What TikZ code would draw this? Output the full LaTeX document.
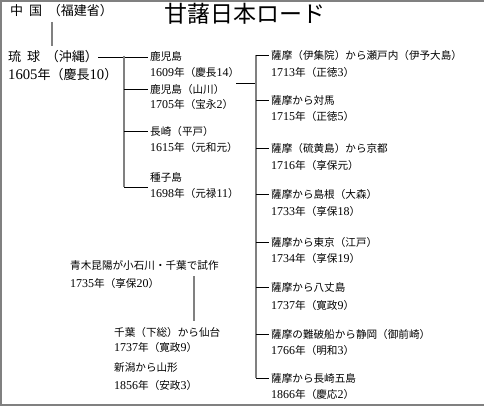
\documentclass[tikz,border=0pt]{standalone}
\usepackage{fontspec}
\setmainfont{Noto Sans CJK JP}
\newfontfamily\lat[Scale=1.13]{Liberation Serif}
\newcommand\yr[3]{{\lat #1}年（#2{\lat #3}）}
\begin{document}
\begin{tikzpicture}[x=1pt,y=-1pt,
  lbl/.style={anchor=west,inner xsep=2pt,inner ysep=0pt,font=\fontsize{10.6}{12}\selectfont},
  big/.style={anchor=west,inner sep=0pt,font=\fontsize{13}{15}\selectfont},
  trunk/.style={draw=black!50,line width=2pt},
  twig/.style={draw=black,line width=0.8pt},
  frame/.style={draw=black!50,line width=2pt}]
\useasboundingbox (0,0) rectangle (484,406);
\draw[frame] (484,1) -- (1,1) -- (1,405) -- (484,405);
% title
\node[anchor=west,inner sep=0pt,font=\fontsize{23}{25}\selectfont] (title) at (164,14) {甘藷日本ロード};
% origin
\node[big] (china) at (10,11) {中\hspace{0.45em}国\hspace{0.45em}（福建省）};
\node[big] (ryukyu) at (8,57) {琉\hspace{0.45em}球\hspace{0.45em}（沖縄）};
\node[big] (ryukyuY) at (8,75) {\yr{1605}{慶長}{10}};
\coordinate (cTop) at (52,22);
\coordinate (cBot) at (52,46);
\draw[trunk] (cTop) -- (cBot);
% first level
\node[lbl] (k1) at (148,56) {鹿児島};
\node[lbl] (k1y) at (148,72) {\yr{1609}{慶長}{14}};
\node[lbl] (k2) at (148,89) {鹿児島（山川）};
\node[lbl] (k2y) at (148,104) {\yr{1705}{宝永}{2}};
\node[lbl] (k3) at (148,131) {長崎（平戸）};
\node[lbl] (k3y) at (148,147) {\yr{1615}{元和元}{}};
\node[lbl] (k4) at (148,177) {種子島};
\node[lbl] (k4y) at (148,193) {\yr{1698}{元禄}{11}};
\draw[twig] (ryukyu.east) -- (ryukyu.east -| k1.west);
\coordinate (v1Top) at (124,56);
\coordinate (v1Bot) at (124,187);
\draw[trunk] (v1Top) -- (v1Bot);
\draw[twig] (v1Top |- k2.west) -- (k2.west);
\draw[twig] (v1Top |- k3.west) -- (k3.west);
\draw[twig] (v1Bot) -- (v1Bot -| k4.west);
% second level
\coordinate (v2Top) at (256,55);
\coordinate (v2Bot) at (256,378);
\coordinate (kA) at (236,83);
\draw[twig] (kA) -- (kA -| v2Top);
\draw[trunk] (v2Top) -- (v2Bot);
\node[lbl] (s1) at (269,55) {薩摩（伊集院）から瀬戸内（伊予大島）};
\node[lbl] (s1y) at (269,72) {\yr{1713}{正徳}{3}};
\node[lbl] (s2) at (269,100) {薩摩から対馬};
\node[lbl] (s2y) at (269,116) {\yr{1715}{正徳}{5}};
\node[lbl] (s3) at (269,148) {薩摩（硫黄島）から京都};
\node[lbl] (s3y) at (269,165) {\yr{1716}{享保元}{}};
\node[lbl] (s4) at (269,194) {薩摩から島根（大森）};
\node[lbl] (s4y) at (269,211) {\yr{1733}{享保}{18}};
\node[lbl] (s5) at (269,242) {薩摩から東京（江戸）};
\node[lbl] (s5y) at (269,258) {\yr{1734}{享保}{19}};
\node[lbl] (s6) at (269,287) {薩摩から八丈島};
\node[lbl] (s6y) at (269,305) {\yr{1737}{寛政}{9}};
\node[lbl] (s7) at (269,334) {薩摩の難破船から静岡（御前崎）};
\node[lbl] (s7y) at (269,350) {\yr{1766}{明和}{3}};
\node[lbl] (s8) at (269,378) {薩摩から長崎五島};
\node[lbl] (s8y) at (269,394) {\yr{1866}{慶応}{2}};
\foreach \n in {s1,s2,s3,s4,s5,s6,s7,s8}
  \draw[twig] (v2Top |- \n.west) -- (\n.west);
% bottom left
\node[lbl] (a1) at (68,265) {青木昆陽が小石川・千葉で試作};
\node[lbl] (a1y) at (68,283) {\yr{1735}{享保}{20}};
\node[lbl] (b1) at (112,332) {千葉（下総）から仙台};
\node[lbl] (b1y) at (112,347) {\yr{1737}{寛政}{9}};
\node[lbl] (b2) at (112,368) {新潟から山形};
\node[lbl] (b2y) at (112,385) {\yr{1856}{安政}{3}};
\coordinate (aTop) at (194,276);
\coordinate (aBot) at (194,321);
\draw[trunk] (aTop) -- (aBot);
\end{tikzpicture}
\end{document}
